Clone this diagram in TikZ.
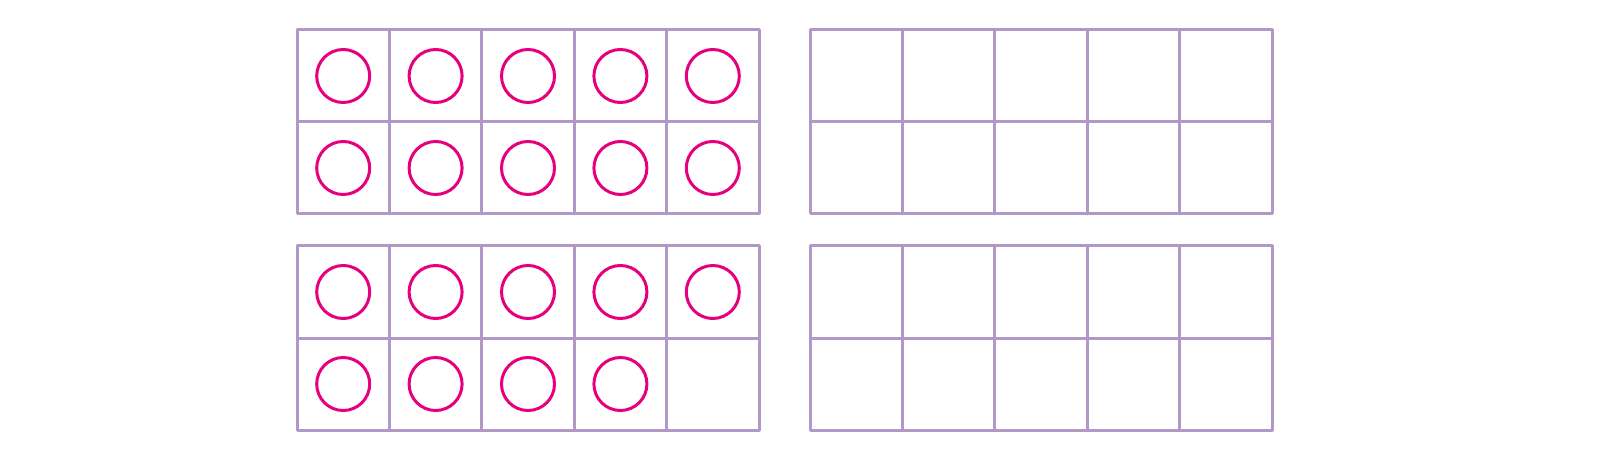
\documentclass[tikz,border=0pt]{standalone}
\definecolor{gridc}{RGB}{178,152,198}
\definecolor{dotc}{RGB}{230,0,126}
\begin{document}
\begin{tikzpicture}[x=1pt,y=-1pt,
  gridline/.style={draw=gridc,line width=3pt,line cap=round,line join=round},
  counter/.style={draw=dotc,line width=3pt}]
\useasboundingbox (0,0) rectangle (1600,470);
% frames: left x, top y
\foreach \fx/\fy in {297/30,810/30,297/246,810/246}{
  \draw[gridline] (\fx,\fy) rectangle ++(462,184);
  \draw[gridline] (\fx,\fy+92) -- ++(462,0);
  \foreach \i in {1,...,4}{
    \draw[gridline] (\fx+\i*92.4,\fy) -- ++(0,184);
  }
}
% counters
\foreach \i in {0,...,4}{
  \draw[counter] (343.2+\i*92.4,76) circle (26.5);
  \draw[counter] (343.2+\i*92.4,168) circle (26.5);
  \draw[counter] (343.2+\i*92.4,292) circle (26.5);
}
\foreach \i in {0,...,3}{
  \draw[counter] (343.2+\i*92.4,384) circle (26.5);
}
\end{tikzpicture}
\end{document}
